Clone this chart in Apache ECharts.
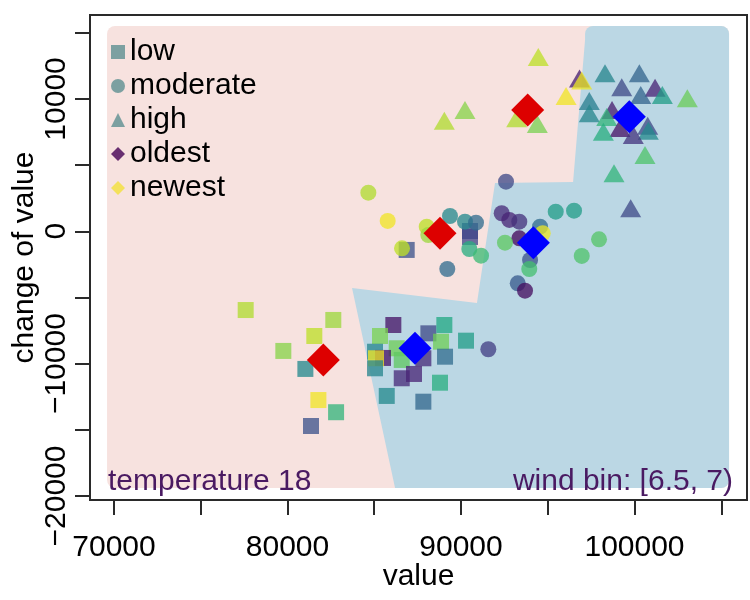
<!DOCTYPE html>
<html>
<head>
<meta charset="utf-8">
<script src="https://cdn.jsdelivr.net/npm/echarts@6/dist/echarts.min.js"></script>
<style>html,body{margin:0;padding:0;background:#fff}#c{width:750px;height:600px}</style>
</head>
<body>
<div id="c"></div>
<script>
// ---- data ----
var categories = ['low', 'moderate', 'high'];
var ageLegend = ['oldest', 'newest'];
var xTicks = [70000, 75000, 80000, 85000, 90000, 95000, 100000, 105000];
var xTickLabels = [70000, 80000, 90000, 100000];
var yTicks = [-20000, -15000, -10000, -5000, 0, 5000, 10000, 15000];
var yTickLabels = [-20000, -10000, 0, 10000];
var xTitle = 'value';
var yTitle = 'change of value';
var noteLeft = 'temperature 18';
var noteRight = 'wind bin: [6.5, 7)';

// [value, change, age(0 oldest .. 1 newest)]
var lowPoints = [
  [77590, -5950, 0.88], [82640, -6700, 0.85], [81545, -7910, 0.90], [79760, -9040, 0.82],
  [81030, -10400, 0.47], [81780, -12750, 0.98], [82800, -13670, 0.65], [81355, -14710, 0.25],
  [86100, -7080, 0.05], [85330, -7910, 0.80], [88120, -7710, 0.22], [89040, -7080, 0.60],
  [90290, -8265, 0.55], [88850, -8340, 0.78], [86295, -8840, 0.78], [85045, -9100, 0.45],
  [85505, -9570, 0.05], [85100, -9595, 0.98], [85045, -10350, 0.45], [86585, -9720, 0.75],
  [87830, -9595, 0.12], [89080, -9475, 0.35], [86585, -11105, 0.12], [87290, -10780, 0.10],
  [88790, -11440, 0.62], [85720, -12440, 0.47], [87830, -12875, 0.33], [86870, -1410, 0.25],
  [90520, 20, 0.20], [90520, -430, 0.20]
];
var moderatePoints = [
  [84660, 2920, 0.88], [85775, 780, 0.98], [88025, 350, 0.90], [88115, -280, 0.85],
  [86600, -1285, 0.90], [89365, 1155, 0.47], [90230, 725, 0.47], [90865, 650, 0.35],
  [90480, -1340, 0.62], [91155, -1845, 0.68], [89210, -2850, 0.35], [92595, 3750, 0.22],
  [92345, 1360, 0.12], [92785, 855, 0.10], [93360, 725, 0.14], [94555, 350, 0.35],
  [94710, -150, 0.97], [93360, -530, 0.02], [92535, -860, 0.75], [93980, -2170, 0.25],
  [93935, -2850, 0.70], [93270, -3930, 0.28], [93690, -4490, 0.03], [95460, 1480, 0.55],
  [96515, 1555, 0.55], [96960, -1865, 0.72], [97955, -605, 0.73], [91575, -8915, 0.18]
];
var highPoints = [
  [94455, 13170, 0.90], [96830, 11545, 0.08], [96960, 11390, 0.97], [96055, 10220, 0.98],
  [98300, 11935, 0.45], [100280, 11935, 0.32], [99265, 10880, 0.22], [101185, 10850, 0.10],
  [100360, 10300, 0.32], [101605, 10300, 0.55], [103045, 10050, 0.77], [97395, 9845, 0.42],
  [97395, 8915, 0.45], [98705, 9165, 0.08], [98400, 8635, 0.65], [90230, 9165, 0.82],
  [89040, 8355, 0.88], [93210, 8535, 0.88], [94400, 8105, 0.80], [100760, 7980, 0.22],
  [100795, 7600, 0.47], [99165, 7805, 0.05], [99930, 7275, 0.15], [98205, 7525, 0.62],
  [100605, 5765, 0.72], [98820, 4380, 0.65], [99780, 1740, 0.22]
];
var redCentroids = [[82065, -9720], [88790, -150], [93845, 9165]];
var blueCentroids = [[87350, -8840], [94170, -860], [99700, 8660]];

// background decision regions (data units)
var regionBox = [[69600, 15510], [105450, -19395]];
var blueBox = [[97150, 15510], [105450, -19395]];
var bluePolygon = [
  [97150, 14450], [103780, 14450], [103780, -19395], [86200, -19395],
  [83720, -4285], [90920, -5415], [91960, 3650], [96460, 3725]
];

// ---- chart ----
var FONT = 'Liberation Sans';
var viridis = ['#440154','#482475','#414487','#355f8d','#2a788e','#21918c','#22a884','#44bf70','#7ad151','#bddf26','#fde725'];
var chart = echarts.init(document.getElementById('c'), null, {renderer: 'canvas'});

function fmt(v) { return String(v).replace('-', '\u2212'); }

function rectItem(box, color) {
  return function (params, api) {
    var p1 = api.coord(box[0]);
    var p2 = api.coord(box[1]);
    return {type: 'rect', shape: {x: p1[0], y: p1[1], width: p2[0] - p1[0], height: p2[1] - p1[1], r: 8},
      style: {fill: color}};
  };
}

var option = {
  animation: false,
  backgroundColor: '#ffffff',
  grid: {left: 90, right: 3, top: 15, bottom: 100, show: true, borderColor: '#2a2a2a', borderWidth: 2,
    backgroundColor: 'transparent', containLabel: false, outerBoundsMode: 'none'},
  xAxis: {
    type: 'value', min: 68617, max: 106484,
    splitLine: {show: false},
    axisLine: {show: true, onZero: false, lineStyle: {color: '#2a2a2a', width: 2}},
    axisTick: {show: true, length: 15, customValues: xTicks, lineStyle: {color: '#2a2a2a', width: 2}},
    axisLabel: {customValues: xTickLabels, formatter: fmt, fontSize: 30, color: '#000', fontFamily: FONT, margin: 33, hideOverlap: false},
    name: xTitle, nameLocation: 'middle', nameGap: 62, nameMoveOverlap: false,
    nameTextStyle: {fontSize: 30, color: '#000', fontFamily: FONT}
  },
  yAxis: {
    type: 'value', min: -20302, max: 16340,
    splitLine: {show: false},
    axisLine: {show: true, onZero: false, lineStyle: {color: '#2a2a2a', width: 2}},
    axisTick: {show: true, length: 15, customValues: yTicks, lineStyle: {color: '#2a2a2a', width: 2}},
    axisLabel: {customValues: yTickLabels, formatter: fmt, fontSize: 30, color: '#000', fontFamily: FONT, margin: 18, rotate: 90, hideOverlap: false},
    name: yTitle, nameLocation: 'middle', nameGap: 50, nameMoveOverlap: false,
    nameTextStyle: {fontSize: 30, color: '#000', fontFamily: FONT}
  },
  visualMap: {
    show: false, type: 'continuous', min: 0, max: 1, dimension: 2,
    seriesIndex: [3, 4, 5], inRange: {color: viridis}
  },
  legend: {
    left: 111, top: 37, padding: 0, orient: 'vertical', itemGap: 4, itemWidth: 14, itemHeight: 14,
    selectedMode: false,
    textStyle: {fontSize: 30, color: '#000', fontFamily: FONT},
    data: [
      {name: categories[0], icon: 'rect', itemStyle: {color: '#568B8C'}},
      {name: categories[1], icon: 'circle', itemStyle: {color: '#568B8C'}},
      {name: categories[2], icon: 'triangle', itemStyle: {color: '#568B8C'}},
      {name: ageLegend[0], icon: 'diamond', itemStyle: {color: '#440154'}},
      {name: ageLegend[1], icon: 'diamond', itemStyle: {color: '#F2E13A'}}
    ]
  },
  graphic: [
    {type: 'text', left: 108, top: 467, z: 10, style: {text: noteLeft, fontSize: 30, fontFamily: FONT, fill: '#4A1A62'}},
    {type: 'text', right: 17, top: 467, z: 10, style: {text: noteRight, fontSize: 30, fontFamily: FONT, fill: '#4A1A62'}}
  ],
  series: [
    {type: 'custom', name: 'bgPink', silent: true, clip: false, z: 1, renderItem: rectItem(regionBox, '#F7E2DF'), data: [regionBox[0]]},
    {type: 'custom', name: 'bgBlue', silent: true, clip: false, z: 1, renderItem: rectItem(blueBox, '#BBD7E4'), data: [blueBox[0]]},
    {type: 'custom', name: 'bgBlue2', silent: true, clip: false, z: 1,
      renderItem: function (params, api) {
        return {type: 'polygon', shape: {points: bluePolygon.map(function (p) { return api.coord(p); })}, style: {fill: '#BBD7E4'}};
      }, data: [bluePolygon[0]]},
    {type: 'scatter', name: categories[0], symbol: 'rect', symbolSize: 16, z: 3, itemStyle: {opacity: 0.76}, data: lowPoints},
    {type: 'scatter', name: categories[1], symbol: 'circle', symbolSize: 16, z: 3, itemStyle: {opacity: 0.76}, data: moderatePoints},
    {type: 'scatter', name: categories[2], symbol: 'triangle', symbolSize: [21, 18], z: 3, itemStyle: {opacity: 0.76}, data: highPoints},
    {type: 'scatter', name: ageLegend[0], symbol: 'diamond', data: [], itemStyle: {color: '#440154'}},
    {type: 'scatter', name: ageLegend[1], symbol: 'diamond', data: [], itemStyle: {color: '#F2E13A'}},
    {type: 'scatter', name: 'centroidRed', symbol: 'diamond', symbolSize: 33, z: 5, itemStyle: {color: '#DD0000', opacity: 1}, data: redCentroids},
    {type: 'scatter', name: 'centroidBlue', symbol: 'diamond', symbolSize: 33, z: 5, itemStyle: {color: '#0000FF', opacity: 1}, data: blueCentroids}
  ]
};
chart.setOption(option);
</script>
</body>
</html>
